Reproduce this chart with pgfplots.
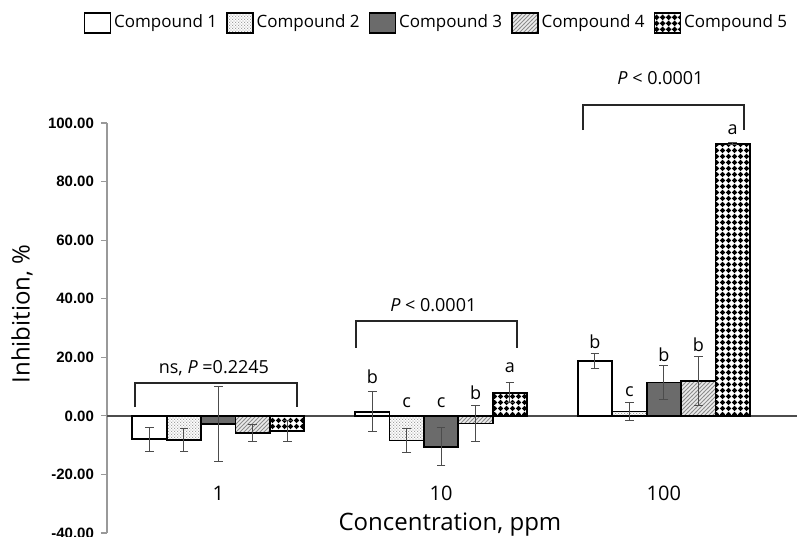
\documentclass[border=0pt]{standalone}
\usepackage{fontspec}
\setmainfont{Open Sans}
\newfontfamily\tickfont{Liberation Sans}
\usepackage{pgfplots}
\usepackage{pgfplotstable}
\pgfplotsset{compat=1.18}
\usetikzlibrary{patterns}

% fill patterns of the five compounds
\pgfdeclarepatternformonly{finedots}{\pgfqpoint{0pt}{0pt}}{\pgfqpoint{1.4pt}{1.4pt}}{\pgfqpoint{1.4pt}{1.4pt}}{%
  \pgfpathcircle{\pgfqpoint{0.35pt}{0.35pt}}{0.33pt}%
  \pgfpathcircle{\pgfqpoint{1.05pt}{1.05pt}}{0.33pt}%
  \pgfusepath{fill}}
\pgfdeclarepatternformonly{nelines}{\pgfqpoint{-1pt}{-1pt}}{\pgfqpoint{3pt}{3pt}}{\pgfqpoint{2pt}{2pt}}{%
  \pgfsetlinewidth{0.5pt}%
  \pgfpathmoveto{\pgfqpoint{0pt}{0pt}}\pgfpathlineto{\pgfqpoint{2.1pt}{2.1pt}}%
  \pgfusepath{stroke}}
\pgfdeclarepatternformonly{bigdots}{\pgfqpoint{0pt}{0pt}}{\pgfqpoint{3pt}{3pt}}{\pgfqpoint{3pt}{3pt}}{%
  \pgfsetlinewidth{0.75pt}%
  \pgfpathmoveto{\pgfqpoint{0pt}{1.5pt}}\pgfpathlineto{\pgfqpoint{3pt}{1.5pt}}%
  \pgfpathmoveto{\pgfqpoint{1.5pt}{0pt}}\pgfpathlineto{\pgfqpoint{1.5pt}{3pt}}%
  \pgfusepath{stroke}%
  \pgfpathcircle{\pgfqpoint{1.5pt}{1.5pt}}{1.2pt}%
  \pgfusepath{fill}}

% x: 0 = 1 ppm, 1 = 10 ppm, 2 = 100 ppm; e = error
\pgfplotstableread{
x y e
0 -8.0 4.0
1 1.4 6.8
2 18.8 2.6
}\cA
\pgfplotstableread{
x y e
0 -8.2 3.9
1 -8.4 4.0
2 1.5 3.1
}\cB
\pgfplotstableread{
x y e
0 -2.8 12.9
1 -10.6 6.5
2 11.4 5.8
}\cC
\pgfplotstableread{
x y e
0 -5.8 3.0
1 -2.6 6.2
2 12.0 8.3
}\cD
\pgfplotstableread{
x y e
0 -5.2 3.5
1 7.9 3.4
2 92.9 0.4
}\cE

\pgfplotsset{
  cbar/.style={draw=black, line width=0.9pt,
    error bars/.cd, y dir=both, y explicit,
    error bar style={line width=0.5pt, black!70},
    error mark options={rotate=90, mark size=2.2pt, line width=0.5pt, black!70},
    /pgfplots/.cd,
    legend image code/.code={\draw[##1, line width=0.8pt] (0pt,-5pt) rectangle (13pt,5pt);}},
}

\begin{document}
\begin{tikzpicture}
\begin{axis}[
  name=ax,
  scale only axis, width=345pt, height=205pt,
  xmin=-0.5, xmax=2.598, ymin=-40, ymax=100,
  ybar, bar width=0.1545,
  clip=false,
  axis y line*=left, axis x line*=bottom,
  x axis line style={draw=none},
  y axis line style={gray!80, line width=0.6pt},
  xtick={0,1,2}, xticklabels={1,10,100},
  xtick style={draw=none},
  xticklabel style={anchor=center, yshift=23pt, font=\fontsize{10}{12}\selectfont},
  ytick={-40,-20,...,100},
  ytick style={gray!80, line width=0.6pt},
  tick align=outside, major tick length=3pt,
  yticklabel style={font=\tickfont\bfseries\fontsize{7.5}{9}\selectfont,
    /pgf/number format/.cd, fixed, fixed zerofill, precision=2, assume math mode=true},
  xlabel={Concentration, ppm},
  xlabel style={at={(axis description cs:0.497,0)}, anchor=center, yshift=4pt,
    font=\fontsize{12}{14}\selectfont},
  ylabel={Inhibition, \%},
  ylabel style={at={([xshift=-42.5pt]axis description cs:0,0.534)}, anchor=center,
    font=\fontsize{12}{14}\selectfont},
  legend style={at={(axis description cs:0.478,1)}, anchor=center, yshift=50pt,
    draw=none, fill=none, font=\fontsize{8.5}{10}\selectfont,
    nodes={inner xsep=1.5pt},
    /tikz/every even column/.append style={column sep=3pt}},
  legend columns=5,
]
\draw[black!70, line width=0.9pt] (axis cs:-0.5,0) -- (axis cs:2.598,0);

\addplot[cbar, bar shift=-0.309, fill=white]
  table[x=x, y=y, y error=e] {\cA};
\addplot[cbar, bar shift=-0.1545, fill=white, postaction={pattern=finedots, pattern color=gray!80}]
  table[x=x, y=y, y error=e] {\cB};
\addplot[cbar, bar shift=0, fill=black!58]
  table[x=x, y=y, y error=e] {\cC};
\addplot[cbar, bar shift=0.1545, fill=gray!15, postaction={pattern=nelines, pattern color=gray!90}]
  table[x=x, y=y, y error=e] {\cD};
\addplot[cbar, bar shift=0.309, fill=white, postaction={pattern=bigdots, pattern color=black}]
  table[x=x, y=y, y error=e] {\cE};
\legend{Compound 1, Compound 2, Compound 3, Compound 4, Compound 5}

% significance brackets and letters
\draw[line width=1pt, black!85] (axis cs:-0.373,3) -- (axis cs:-0.373,11.3) -- (axis cs:0.355,11.3) -- (axis cs:0.355,3);
\draw[line width=1pt, black!85] (axis cs:0.62,23.2) -- (axis cs:0.62,32.4) -- (axis cs:1.343,32.4) -- (axis cs:1.343,23.2);
\draw[line width=1pt, black!85] (axis cs:1.639,97.6) -- (axis cs:1.639,106) -- (axis cs:2.362,106) -- (axis cs:2.362,97.6);
\begin{scope}[every node/.style={font=\fontsize{9}{11}\selectfont}]
\node at (axis cs:-0.02,16.4) {ns,\ \textit{P} =0.2245};
\node at (axis cs:0.965,37.9) {\textit{P} < 0.0001};
\node at (axis cs:1.985,115.4) {\textit{P} < 0.0001};
\node at (axis cs:0.691,13.3) {b};
\node at (axis cs:0.845,4.4) {c};
\node at (axis cs:1.0,4.4) {c};
\node at (axis cs:1.155,7.8) {b};
\node at (axis cs:1.309,16.4) {a};
\node at (axis cs:1.691,25.3) {b};
\node at (axis cs:1.845,8.2) {c};
\node at (axis cs:2.0,20.8) {b};
\node at (axis cs:2.155,24.2) {b};
\node at (axis cs:2.309,97.6) {a};
\end{scope}
\end{axis}
\pgfresetboundingbox
\useasboundingbox ([shift={(-53.5pt,-1.5pt)}]ax.south west) rectangle ([shift={(345pt,266.5pt)}]ax.south west);
\end{tikzpicture}
\end{document}
